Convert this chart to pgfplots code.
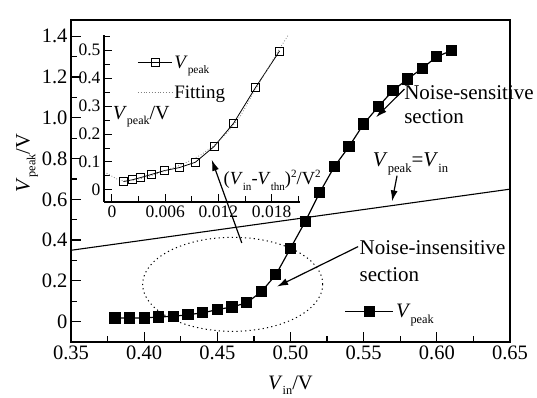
\documentclass[border=0pt]{standalone}
\usepackage{fontspec}
\setmainfont{Liberation Serif}
\usepackage{graphicx}
\usepackage{pgfplots}
\pgfplotsset{compat=1.18}
\usetikzlibrary{arrows.meta}
\newcommand\sub[1]{\raisebox{-0.28em}{\scalebox{0.6}{#1}}}
\newcommand\sups[1]{\raisebox{0.42em}{\scalebox{0.6}{#1}}}
\begin{document}
\begin{tikzpicture}
\path[use as bounding box] (-71pt,-56pt) rectangle (466pt,342pt);
\begin{axis}[
  at={(0pt,0pt)}, anchor=south west,
  scale only axis, width=439pt, height=322pt,
  xmin=0.35, xmax=0.65, ymin=-0.1, ymax=1.48,
  xtick={0.35,0.4,0.45,0.5,0.55,0.6,0.65},
  xticklabels={0.35,0.40,0.45,0.50,0.55,0.60,0.65},
  minor xtick={0.375,0.425,0.475,0.525,0.575,0.625},
  ytick={0,0.2,0.4,0.6,0.8,1.0,1.2,1.4},
  yticklabels={0,0.2,0.4,0.6,0.8,1.0,1.2,1.4},
  minor ytick={0.1,0.3,0.5,0.7,0.9,1.1,1.3},
  xtick pos=bottom, ytick pos=left,
  tick align=inside,
  major tick length=10pt, minor tick length=6pt,
  every tick/.style={black, line width=1.2pt},
  axis line style={line width=1.6pt},
  clip=false,
  font=\fontsize{20.5}{24}\selectfont,
  xlabel={\textit{V}\sub{in}/V},
  ylabel={\textit{V}\sub{peak}/V},
  xlabel style={at={(axis description cs:0.5,-0.134)}, anchor=center},
  ylabel style={at={(axis description cs:-0.100,0.556)}, anchor=center},
  legend style={at={(axis cs:0.537,0.049)}, anchor=west, draw=none, fill=none, inner sep=0pt},
  legend image code/.code={\draw[mark repeat=2,mark phase=2,#1] plot coordinates {(0pt,0pt) (24pt,0pt) (48pt,0pt)};},
]
\addplot[black, line width=1.2pt, mark=square*, mark size=5pt, mark options={solid}] coordinates {
(0.38,0.018)(0.39,0.018)(0.40,0.018)(0.41,0.023)(0.42,0.026)(0.43,0.034)
(0.44,0.043)(0.45,0.059)(0.46,0.072)(0.47,0.092)(0.48,0.146)(0.49,0.23)
(0.50,0.36)(0.51,0.49)(0.52,0.634)(0.53,0.761)(0.54,0.859)(0.55,0.97)
(0.56,1.055)(0.57,1.134)(0.58,1.19)(0.59,1.243)(0.60,1.30)(0.61,1.33)};
\addlegendentry{\textit{V}\sub{peak}}
\addplot[black, line width=1.1pt, forget plot] coordinates {(0.35,0.35)(0.65,0.65)};
\draw[black, line width=1pt, dash pattern=on 1.2pt off 3.2pt] (axis cs:0.4605,0.183) ellipse [x radius=90pt, y radius=47pt];
\draw[line width=1.2pt, -{Latex[length=11pt,width=7pt]}] (axis cs:0.4667,0.386) -- (axis cs:0.4462,0.794);
\draw[line width=1.2pt, -{Latex[length=11pt,width=7pt]}] (axis cs:0.5778,1.141) -- (axis cs:0.5585,1.003);
\draw[line width=1.2pt, -{Latex[length=11pt,width=7pt]}] (axis cs:0.5728,0.716) -- (axis cs:0.5694,0.590);
\draw[line width=1.2pt, -{Latex[length=11pt,width=7pt]}] (axis cs:0.5462,0.368) -- (axis cs:0.4908,0.172);
\begin{scope}[font=\fontsize{21}{25}\selectfont]
\node[anchor=base west, inner sep=0pt] at (axis cs:0.5776,1.088) {Noise-sensitive};
\node[anchor=base west, inner sep=0pt] at (axis cs:0.5776,0.971) {section};
\node[anchor=base west, inner sep=0pt] at (axis cs:0.5562,0.761) {\textit{V}\sub{peak}=\textit{V}\sub{in}};
\node[anchor=base west, inner sep=0pt] at (axis cs:0.5471,0.328) {Noise-insensitive};
\node[anchor=base west, inner sep=0pt] at (axis cs:0.5471,0.198) {section};
\end{scope}
\end{axis}
\begin{axis}[
  at={(33pt,140pt)}, anchor=south west,
  scale only axis, width=196pt, height=167pt,
  axis x line=bottom, axis y line=left,
  axis line style={-, line width=1.2pt},
  xmin=-0.0009, xmax=0.0212, ymin=-0.043, ymax=0.554,
  scaled x ticks=false, scaled y ticks=false,
  xtick={0,0.006,0.012,0.018}, xticklabels={0,0.006,0.012,0.018},
  minor xtick={0.003,0.009,0.015,0.021},
  ytick={0,0.1,0.2,0.3,0.4,0.5}, yticklabels={0,0.1,0.2,0.3,0.4,0.5},
  minor ytick={0.05,0.15,0.25,0.35,0.45,0.55},
  tick align=inside,
  major tick length=8pt, minor tick length=6pt,
  every tick/.style={black, line width=1pt},
  tick label style={font=\fontsize{17.5}{20}\selectfont},
  clip=false,
  font=\fontsize{19}{22}\selectfont,
  legend style={at={(rel axis cs:0.17,0.745)}, anchor=west, draw=none, fill=none, inner sep=0pt, row sep=12pt},
  legend cell align=left,
  legend image code/.code={\draw[mark repeat=2,mark phase=2,#1] plot coordinates {(0pt,0pt) (17pt,0pt) (34pt,0pt)};},
]
\addplot[black, line width=0.8pt, mark=square, mark size=4pt, mark options={solid, fill=white}] coordinates {
(0.0013,0.030)(0.00225,0.036)(0.0032,0.044)(0.0045,0.056)(0.0059,0.069)(0.0076,0.080)
(0.0094,0.099)(0.0115,0.155)(0.0137,0.238)(0.0162,0.367)(0.0189,0.497)};
\addlegendentry{\textit{V}\sub{peak}}
\addplot[gray, line width=0.8pt, dotted] coordinates {
(-0.0006,0.060)(0.0005,0.040)(0.0013,0.032)(0.0025,0.035)(0.004,0.047)(0.0055,0.062)
(0.007,0.080)(0.0085,0.100)(0.010,0.125)(0.0115,0.158)(0.013,0.205)(0.0145,0.265)
(0.016,0.35)(0.0175,0.43)(0.0188,0.50)(0.0199,0.555)};
\addlegendentry{Fitting}
\node[anchor=center, inner sep=0pt] at (rel axis cs:0.19,0.51) {\fontsize{20}{24}\selectfont\textit{V}\sub{peak}/V};
\node[anchor=center, inner sep=0pt] at (rel axis cs:0.858,0.132) {\fontsize{18.5}{22}\selectfont(\textit{V}\sub{in}-\textit{V}\sub{thn})\sups{2}/V\sups{2}};
\end{axis}
\end{tikzpicture}
\end{document}
